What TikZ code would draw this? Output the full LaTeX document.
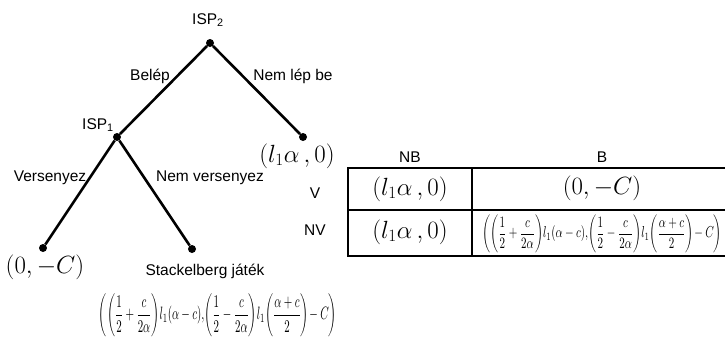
\documentclass[tikz,border=0pt]{standalone}
\usepackage{fontspec}
\usepackage{amsmath}
\usepackage{graphicx}
\setmainfont{Liberation Sans}
\newcommand{\stackpay}{$\left(\left(\dfrac12+\dfrac{c}{2\alpha}\right)\!l_1(\alpha-c),\!\left(\dfrac12-\dfrac{c}{2\alpha}\right)\!l_1\!\left(\dfrac{\alpha+c}{2}\right)\!-C\right)$}
\begin{document}
\begin{tikzpicture}[x=1pt,y=-1pt,
  lbl/.style={font=\fontsize{15.5}{18}\selectfont, inner sep=0pt},
  dot/.style={circle, fill=black, inner sep=0pt, minimum size=8pt},
  branch/.style={line width=2.6pt},
  pay/.style={inner sep=0pt, font=\fontsize{23}{26}\selectfont},
  grid/.style={line width=1.5pt}]
\useasboundingbox (0,0) rectangle (725,338);
% tree nodes
\node[dot] (root) at (210,43) {};
\node[dot] (isp1) at (117,137) {};
\node[dot] (nb) at (303,137) {};
\node[dot] (v) at (43,248) {};
\node[dot] (nv) at (192,249) {};
\draw[branch] (root) -- (isp1);
\draw[branch] (root) -- (nb);
\draw[branch] (isp1) -- (v);
\draw[branch] (isp1) -- (nv);
% labels
\node[lbl] (l1) at (208,20) {ISP\textsubscript{2}};
\node[lbl] (l2) at (150,76) {Belép};
\node[lbl] (l3) at (293,76) {Nem lép be};
\node[lbl] (l4) at (98,125) {ISP\textsubscript{1}};
\node[lbl] (l5) at (50,178) {Versenyez};
\node[lbl] (l6) at (210,178) {Nem versenyez};
\node[lbl] (l7) at (205,271) {Stackelberg játék};
\node[pay] (p1) at (297,156) {$\left(l_1\alpha\,,0\right)$};
\node[pay] (p2) at (45,267) {$\left(0,-C\right)$};
\node[inner sep=0pt] (p3) at (218,315.5) {\resizebox*{238pt}{43pt}{\stackpay}};
% table
\draw[grid] (348,168) rectangle (732,256);
\draw[grid] (348,210) -- (732,210);
\draw[grid] (472,168) -- (472,256);
\node[lbl] (hnb) at (410,157) {NB};
\node[lbl] (hb) at (602,157) {B};
\node[lbl] (rv) at (315,193) {V};
\node[lbl] (rnv) at (315,230) {NV};
\node[pay] (t11) at (410,189) {$\left(l_1\alpha\,,0\right)$};
\node[pay] (t12) at (602,188) {$\left(0,-C\right)$};
\node[pay] (t21) at (410,232) {$\left(l_1\alpha\,,0\right)$};
\node[inner sep=0pt] (t22) at (602,234) {\resizebox*{240pt}{38pt}{\stackpay}};
\end{tikzpicture}
\end{document}
